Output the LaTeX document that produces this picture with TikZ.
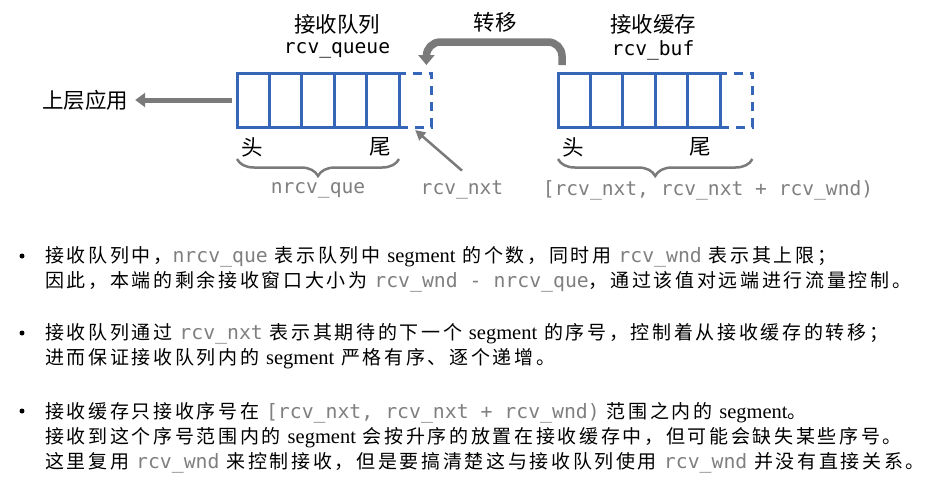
\documentclass[tikz,border=0pt]{standalone}
\usepackage{fontspec}
\usepackage{xcolor}
\setmainfont{Noto Sans CJK SC}
\setmonofont{DejaVu Sans Mono}
\newfontfamily\bodyfont[LetterSpace=14]{Noto Sans CJK SC}
\newfontfamily\segfont{Liberation Serif}
\usetikzlibrary{positioning,calc,arrows.meta,decorations.pathreplacing}

\definecolor{boxblue}{HTML}{3566B8}
\definecolor{arrgray}{HTML}{7A7A7A}
\definecolor{txtgray}{HTML}{7F7F7F}

\newcommand{\code}[1]{{\ttfamily\fontsize{19.8}{24}\selectfont\color{txtgray}#1}}
\newcommand{\seg}{{\segfont\fontsize{20.5}{24}\selectfont segment}}

\begin{document}
\begin{tikzpicture}[x=1pt,y=-1pt,
    cell/.style={draw=boxblue, line width=3pt, minimum width=32.4pt, minimum height=54pt, inner sep=0pt, outer sep=0pt},
    spare/.style={cell, dash pattern=on 9pt off 7pt},
    cjk/.style={inner sep=1pt, font=\fontsize{21.5}{24}\selectfont},
    mono/.style={inner sep=1pt, font=\ttfamily\fontsize{19.6}{22}\selectfont},
    grey/.style={text=txtgray},
    bline/.style={anchor=base west, inner sep=0pt, font=\bodyfont\fontsize{19}{25}\selectfont},
    dot/.style={circle, fill=black, inner sep=0pt, minimum size=5pt},
    brace/.style={draw=arrgray, line width=2.5pt, decorate, decoration={brace, mirror, amplitude=17pt}}]
  \useasboundingbox (0,0) rectangle (929,496);
  \def \w {32.4}

  % queue and buffer cells
  \foreach \i in {1,...,5}
           {
             \node[cell] (q\i) at ({237+\w*(\i-0.5)},100) {};
             \node[cell] (b\i) at ({558+\w*(\i-0.5)},100) {};
           }
  \node[spare] (q6) at ({237+\w*5.5},100) {};
  \node[spare] (b6) at ({558+\w*5.5},100) {};

  % titles
  \node[cjk] (qtitle) at (337,24) {接收队列};
  \node[mono] (qvar) at (337,50) {rcv\_queue};
  \node[cjk] (btitle) at (653,24) {接收缓存};
  \node[mono] (bvar) at (653,50) {rcv\_buf};
  \node[cjk] (move) at (495,22) {转移};
  \node[cjk] (app) at (85,100) {上层应用};

  \node[cjk] (qhead) at (252,147) {头};
  \node[cjk] (qtail) at (380,147) {尾};
  \node[cjk] (bhead) at (573,147) {头};
  \node[cjk] (btail) at (700,147) {尾};

  \node[mono, grey] (nque) at (318,190) {nrcv\_que};
  \node[mono, grey] (nxt) at (462,190) {rcv\_nxt};
  \node[mono, grey] (range) at (708,190) {[rcv\_nxt, rcv\_nxt + rcv\_wnd)};

  % arrows
  \draw[arrgray, line width=5pt, -{Triangle[length=10pt,width=14pt]}]
       ([xshift=-5pt]q1.west) -- ([xshift=6pt]app.east);
  \draw[arrgray, line width=7.5pt, rounded corners=14pt, -{Triangle[length=10pt,width=16pt]}]
       ([xshift=4pt,yshift=8pt]b1.north west) -- ++(0,-23) -| ([xshift=-5pt,yshift=8pt]q6.north east);
  \draw[arrgray, line width=2.5pt, -{Triangle[length=10pt,width=10pt]}]
       ([yshift=9pt]nxt.north) -- ([yshift=-3pt]q6.south);

  % braces
  \draw[brace] ([yshift=-32pt]q1.south west) -- ([yshift=-32pt]q5.south east);
  \draw[brace] ([yshift=-32pt]b1.south west) -- ([yshift=-32pt]b6.south east);

  % notes
  \node[dot] (d1) at (22,256) {};
  \node[bline] (l11) at (45,262) {接收队列中，\code{nrcv\_que} 表示队列中 \seg{} 的个数，同时用 \code{rcv\_wnd} 表示其上限；};
  \node[bline] (l12) at (45,287) {因此，本端的剩余接收窗口大小为 \code{rcv\_wnd - nrcv\_que}，通过该值对远端进行流量控制。};

  \node[dot] (d2) at (22,333) {};
  \node[bline] (l21) at (45,339) {接收队列通过 \code{rcv\_nxt} 表示其期待的下一个 \seg{} 的序号，控制着从接收缓存的转移；};
  \node[bline] (l22) at (45,364) {进而保证接收队列内的 \seg{} 严格有序、逐个递增。};

  \node[dot] (d3) at (22,411) {};
  \node[bline] (l31) at (45,418) {接收缓存只接收序号在 \code{[rcv\_nxt, rcv\_nxt + rcv\_wnd)} 范围之内的 \seg{}。};
  \node[bline] (l32) at (45,443) {接收到这个序号范围内的 \seg{} 会按升序的放置在接收缓存中，但可能会缺失某些序号。};
  \node[bline] (l33) at (45,468) {这里复用 \code{rcv\_wnd} 来控制接收，但是要搞清楚这与接收队列使用 \code{rcv\_wnd} 并没有直接关系。};
\end{tikzpicture}
\end{document}
